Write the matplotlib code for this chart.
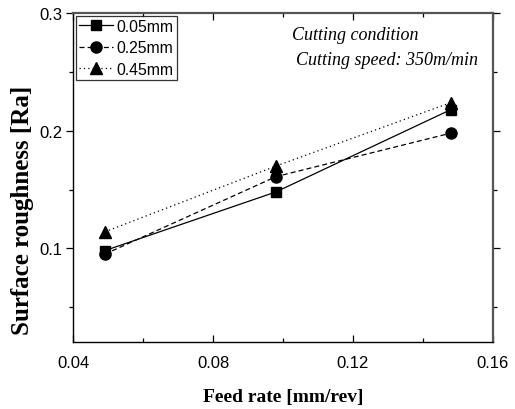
import matplotlib
matplotlib.use("Agg")
import matplotlib.pyplot as plt
from matplotlib.ticker import MultipleLocator

# Feed rate [mm/rev] and surface roughness [Ra] for three depths of cut
feed_rate = [0.049, 0.098, 0.148]
ra_005 = [0.098, 0.148, 0.218]
ra_025 = [0.095, 0.161, 0.198]
ra_045 = [0.114, 0.170, 0.224]
series_labels = ["0.05mm", "0.25mm", "0.45mm"]

x_ticks = [0.04, 0.08, 0.12, 0.16]
y_ticks = [0.1, 0.2, 0.3]

plt.rcParams["font.family"] = ["Liberation Sans", "DejaVu Sans"]

fig = plt.figure(figsize=(5.15, 4.10), dpi=100)
ax = fig.add_axes([0.1423, 0.1627, 0.8144, 0.8024])

ax.plot(feed_rate, ra_005, color="black", lw=0.9, ls="-", marker="s",
        markersize=6.5, label=series_labels[0])
ax.plot(feed_rate, ra_025, color="black", lw=0.9, ls=(0, (4, 2.5)), marker="o",
        markersize=8, label=series_labels[1])
ax.plot(feed_rate, ra_045, color="black", lw=0.9, ls=(0, (1, 2.5)), marker="^",
        markersize=8, label=series_labels[2])

ax.set_xlim(0.04, 0.16)
ax.set_ylim(0.02, 0.3)
ax.set_xticks(x_ticks)
ax.set_xticklabels([f"{v:.2f}" for v in x_ticks])
ax.set_yticks(y_ticks)
ax.set_yticklabels([f"{v:.1f}" for v in y_ticks])
ax.xaxis.set_minor_locator(MultipleLocator(0.02))
ax.yaxis.set_minor_locator(MultipleLocator(0.05))

ax.tick_params(axis="x", which="both", direction="in", top=True, labelsize=12,
               pad=9, color="black")
ax.tick_params(axis="x", which="major", length=5, width=0.9)
ax.tick_params(axis="x", which="minor", length=3, width=0.9)
ax.tick_params(axis="y", which="both", direction="out", right=True, labelsize=12,
               pad=3)
ax.tick_params(axis="y", which="major", length=5, width=0.9)
ax.tick_params(axis="y", which="minor", length=3, width=0.9)

for side in ("left", "bottom"):
    ax.spines[side].set_linewidth(1.0)
    ax.spines[side].set_color("black")
for side in ("top", "right"):
    ax.spines[side].set_linewidth(1.6)
    ax.spines[side].set_color("#555555")

ax.set_xlabel("Feed rate [mm/rev]", family="Liberation Serif",
              fontweight="bold", fontsize=14, labelpad=13)
ax.set_ylabel("Surface roughness [Ra]", family="Liberation Serif",
              fontweight="bold", fontsize=18, labelpad=1)
ax.yaxis.set_label_coords(-0.094, 0.405)

ax.text(0.521, 0.962, "Cutting condition", transform=ax.transAxes,
        family="Liberation Serif", style="italic", fontsize=13, va="top")
ax.text(0.531, 0.886, "Cutting speed: 350m/min", transform=ax.transAxes,
        family="Liberation Serif", style="italic", fontsize=13, va="top")

leg = ax.legend(loc="upper left", bbox_to_anchor=(0.0, 1.0), fontsize=11.3,
                frameon=True, fancybox=False, edgecolor="black",
                handlelength=2.2, handletextpad=0.2, borderpad=0.2,
                labelspacing=0.42, borderaxespad=0.15)
leg.get_frame().set_linewidth(0.9)

fig.savefig("out.png", dpi=100)
